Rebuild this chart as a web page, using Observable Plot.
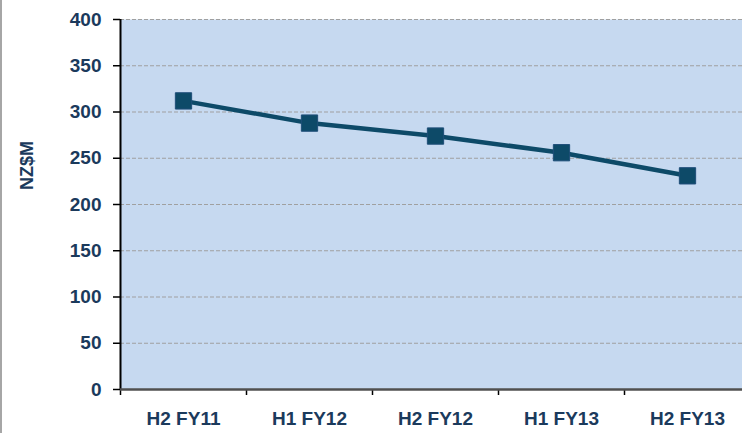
<!DOCTYPE html>
<html>
<head>
<meta charset="utf-8">
<script src="https://cdn.jsdelivr.net/npm/d3@7"></script>
<script src="https://cdn.jsdelivr.net/npm/@observablehq/plot@0.6"></script>
<style>
  html, body { margin: 0; padding: 0; background: #fff; overflow: hidden; width: 742px; height: 433px; }
  #chart { position: absolute; left: 0; top: 0; width: 750px; }
  #chart svg { max-width: none !important; }
  #edge { position: absolute; left: 0; top: 0; width: 2px; height: 433px; background: #a6a6a6; }
</style>
</head>
<body>
<div id="chart"></div>
<div id="edge"></div>
<script>
const categories = ["H2 FY11", "H1 FY12", "H2 FY12", "H1 FY13", "H2 FY13"];
const values = [312, 288, 274, 256, 231];
const yTicks = [0, 50, 100, 150, 200, 250, 300, 350, 400];
const yLabel = "NZ$M";

const data = categories.map((c, i) => ({cat: c, pos: i + 0.5, value: values[i]}));
const boundaries = d3.range(categories.length + 1);
const centers = categories.map((c, i) => i + 0.5);

const textColor = "#1b3a5c";
const lineColor = "#0d4a68";
const font = "Liberation Sans, Arial, sans-serif";

const chart = Plot.plot({
  width: 750,
  height: 433,
  marginLeft: 120,
  marginRight: 0,
  marginTop: 19,
  marginBottom: 44,
  style: {fontFamily: font, background: "transparent", overflow: "visible", maxWidth: "none"},
  x: {type: "linear", domain: [0, categories.length], axis: null},
  y: {domain: [0, 400], axis: null},
  marks: [
    Plot.frame({fill: "#c6d9f0", stroke: null}),
    Plot.gridY(yTicks.filter(d => d > 0), {stroke: "#a0a0a0", strokeOpacity: 1, strokeDasharray: "4,2", strokeWidth: 1.2}),
    Plot.axisY({ticks: yTicks, tickSize: 7, tickPadding: 12, stroke: "#000", strokeWidth: 1.5,
      fill: textColor, fontSize: 19, fontWeight: "bold", label: null}),
    Plot.axisX({ticks: boundaries, tickSize: 6, tickFormat: () => "", stroke: "#000", strokeWidth: 1.5, label: null}),
    Plot.axisX({ticks: centers, tickSize: 0, tickPadding: 22, tickFormat: (d) => categories[Math.floor(d)],
      fill: textColor, fontSize: 19, fontWeight: "bold", label: null}),
    Plot.ruleX([0], {stroke: "#000", strokeWidth: 2}),
    Plot.ruleY([0], {stroke: "#505050", strokeWidth: 2.5}),
    Plot.line(data, {x: "pos", y: "value", stroke: lineColor, strokeWidth: 4.5}),
    Plot.dot(data, {x: "pos", y: "value", symbol: "square", r: 9.2, fill: lineColor, stroke: "#1f4e79", strokeWidth: 1}),
    Plot.text([yLabel], {frameAnchor: "left", dx: -93, dy: -39, rotate: -90, fill: textColor,
      fontSize: 18, fontWeight: "bold", textAnchor: "middle", lineAnchor: "middle"})
  ]
});
document.getElementById("chart").appendChild(chart);
</script>
</body>
</html>
